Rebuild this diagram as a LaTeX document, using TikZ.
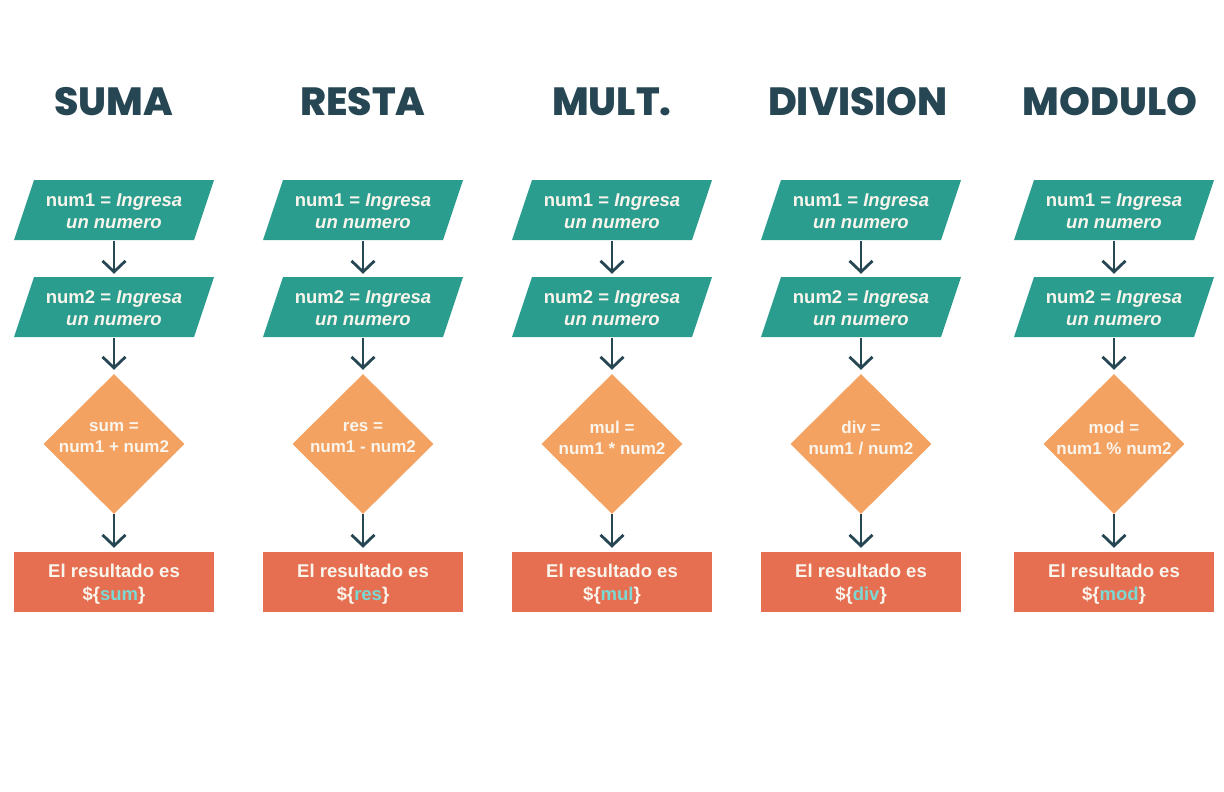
\documentclass[tikz,border=0pt]{standalone}
\usepackage{fontspec}
\setmainfont{Liberation Sans}
\newfontfamily\titlefont{Poppins ExtraBold}
\usetikzlibrary{arrows.meta,shapes.geometric,backgrounds}
\definecolor{ink}{HTML}{264653}
\definecolor{tealbox}{HTML}{2A9D8F}
\definecolor{orangebox}{HTML}{F4A261}
\definecolor{redbox}{HTML}{E76F51}
\definecolor{varcol}{HTML}{7BD8D2}
\definecolor{boxtext}{HTML}{FAF5EC}
\tikzset{
  titlestyle/.style={anchor=base,text=ink,font=\titlefont\fontsize{39.3}{47}\selectfont,inner sep=0pt},
  inbox/.style={minimum width=180pt,minimum height=60pt,inner sep=0pt,align=center,text=boxtext,font=\bfseries\fontsize{18.5}{22.5}\selectfont},
  calcbox/.style={diamond,fill=orangebox,minimum width=141pt,minimum height=140pt,inner sep=0pt},
  calctext/.style={align=center,text=boxtext,inner sep=0pt,font=\bfseries\fontsize{17}{21}\selectfont},
  outbox/.style={fill=redbox,minimum width=200pt,minimum height=60pt,inner sep=0pt,align=center,text=boxtext,font=\bfseries\fontsize{18.5}{23}\selectfont},
  outtext/.style={align=center,text=boxtext,inner sep=0pt,font=\bfseries\fontsize{18.5}{23}\selectfont},
  arr/.style={draw=ink,line width=2.8pt,-{Straight Barb[length=11pt,width=23pt]},shorten >=4pt}
}
% #1 id, #2 column x, #3 title, #4 variable, #5 operator, #6 title x
\newcommand\flowcol[6]{%
  \node[titlestyle] (t#1) at (#6,115) {#3};
  \node[inbox] (a#1) at (#2,211) {num1 = \textit{Ingresa}\\\textit{un numero}};
  \node[inbox] (b#1) at (#2,308) {num2 = \textit{Ingresa}\\\textit{un numero}};
  \node[calcbox] (c#1) at (#2,444) {};
  \node[calctext] (ct#1) at (#2,438) {#4 =\\num1 #5 num2};
  \node[outbox] (d#1) at (#2,582) {};
  \node[outtext] (dt#1) at (#2,584) {El resultado es\\\$\{{\color{varcol}#4}\}};
  \begin{scope}[on background layer]
    \fill[tealbox] (#2-80,180) -- (#2+100,180) -- (#2+80,240) -- (#2-100,240) -- cycle;
    \fill[tealbox] (#2-80,277) -- (#2+100,277) -- (#2+80,337) -- (#2-100,337) -- cycle;
  \end{scope}
  \draw[arr] (a#1.south) -- (b#1.north);
  \draw[arr] (b#1.south) -- (c#1.north);
  \draw[arr] (c#1.south) -- (d#1.north);
}
\begin{document}
\begin{tikzpicture}[x=1pt,y=-1pt]
\begin{scope}[on background layer]
\fill[white] (0,0) rectangle (1224,792);
\end{scope}
\useasboundingbox (0,0) rectangle (1224,792);
\flowcol{1}{114}{SUMA}{sum}{+}{114}
\flowcol{2}{363}{RESTA}{res}{-}{363}
\flowcol{3}{612}{MULT.}{mul}{*}{612}
\flowcol{4}{861}{DIVISION}{div}{/}{858}
\flowcol{5}{1114}{MODULO}{mod}{\%}{1110}
\end{tikzpicture}
\end{document}
